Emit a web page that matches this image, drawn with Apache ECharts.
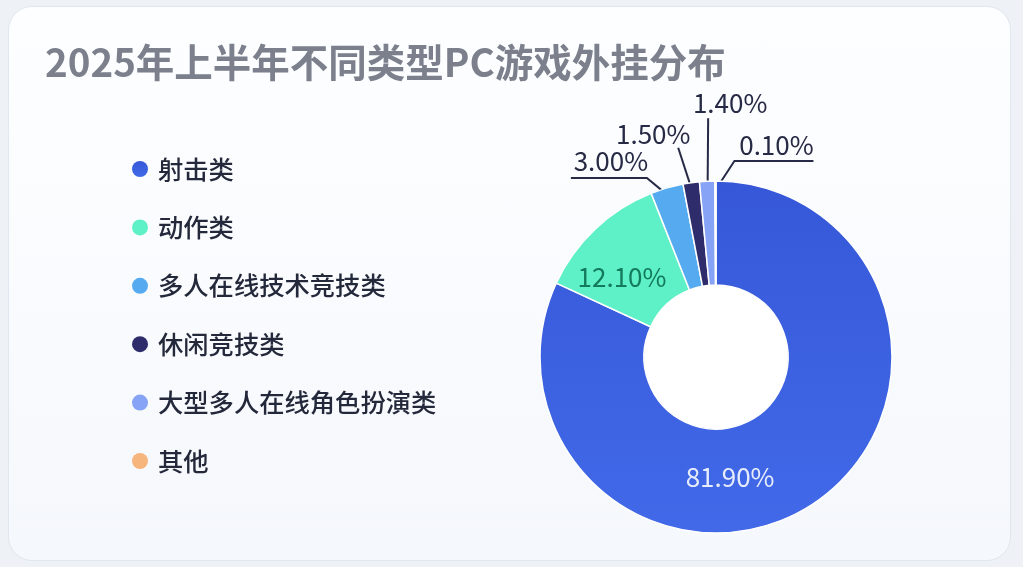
<!DOCTYPE html>
<html><head><meta charset="utf-8">
<script src="https://cdn.jsdelivr.net/npm/echarts@6/dist/echarts.min.js"></script>
<style>
html,body{margin:0;padding:0;width:1023px;height:567px;background:#eef2f6;overflow:hidden}
#card{position:absolute;left:8px;top:6px;width:1003px;height:555px;box-sizing:border-box;border:1.5px solid #e1e7ee;border-radius:24px;background:linear-gradient(180deg,#fdfeff 0%,#f5f8fc 100%);}
#chart{position:absolute;left:0;top:0;width:1023px;height:567px}
</style></head><body>
<div id="card"></div><div id="chart"></div>
<script>
const titleText = '2025年上半年不同类型PC游戏外挂分布';
const categories = ['射击类', '动作类', '多人在线技术竞技类', '休闲竞技类', '大型多人在线角色扮演类', '其他'];
const shares = [81.9, 12.1, 3.0, 1.5, 1.4, 0.1];
const valueLabels = ['81.90%', '12.10%', '3.00%', '1.50%', '1.40%', '0.10%'];

const colors = ['#3d60e0', '#5ef0c6', '#56aaf0', '#2f2c6c', '#86a3f5', '#f7b57e'];
const labelColors = ['#e6ecfb', '#137a5c', '#272a45', '#272a45', '#272a45', '#272a45'];
const C = [716, 357], R = [72, 176];
const insidePos = { 0: [173.3, 121], 1: [310.2, 123] };
const guides = {
  2: { elbow: [-20, -10], end: [-96, -10], text: [-56, -26.5] },
  3: { elbow: [-13, -35], end: null, text: [-38, -49] },
  4: { elbow: [1, -63], end: null, text: [23, -78] },
  5: { elbow: [19, -20], end: [98, -20], text: [61, -35.5] }
};

const chart = echarts.init(document.getElementById('chart'));
const data = categories.map((name, i) => ({
  name: name,
  value: shares[i],
  itemStyle: {
    color: i === 0 ? new echarts.graphic.LinearGradient(0, 0, 0, 1, [
      { offset: 0, color: '#3658d8' }, { offset: 1, color: '#4169e8' }]) : colors[i]
  },
  label: { position: insidePos[i] ? 'inside' : 'outside', color: labelColors[i] },
  labelLine: { show: !insidePos[i] }
}));

chart.setOption({
  animation: false,
  title: {
    text: titleText, left: 40, top: 34,
    textStyle: { fontSize: 38.5, fontWeight: 'bold', color: '#7b808c', fontFamily: 'Noto Sans CJK SC', lineHeight: 46 }
  },
  graphic: [{
    type: 'circle', shape: { cx: C[0], cy: C[1], r: R[0] - 0.5 }, style: { fill: '#ffffff' }, silent: true, z: 0
  }],
  legend: {
    orient: 'vertical', left: 127, top: 150, icon: 'circle', itemWidth: 16, itemHeight: 16, itemGap: 30.4,
    data: categories,
    itemStyle: { borderWidth: 0 },
    textStyle: { fontSize: 25.3, lineHeight: 28, color: '#23283a', fontFamily: 'Noto Sans CJK SC', fontWeight: 500, padding: [0, 0, 0, 5] }
  },
  series: [{
    type: 'pie',
    center: C, radius: R,
    startAngle: 90, clockwise: true,
    avoidLabelOverlap: false,
    itemStyle: { borderColor: '#ffffff', borderWidth: 1.5 },
    label: {
      fontSize: 26, fontFamily: 'Noto Sans CJK SC',
      formatter: p => valueLabels[p.dataIndex]
    },
    labelLine: { lineStyle: { color: '#262a45', width: 2 } },
    labelLayout: function (p) {
      const i = p.dataIndex;
      if (insidePos[i]) {
        const a = insidePos[i][0] * Math.PI / 180, r = insidePos[i][1];
        return { x: C[0] + r * Math.sin(a), y: C[1] - r * Math.cos(a), align: 'center', verticalAlign: 'middle' };
      }
      const g = guides[i];
      if (!g || !p.labelLinePoints) return {};
      const p1 = p.labelLinePoints[0];
      const ux = p1[0] - C[0], uy = p1[1] - C[1];
      const len = Math.hypot(ux, uy);
      const start = [C[0] + ux / len * (R[1] - 9), C[1] + uy / len * (R[1] - 9)];
      const elbow = [p1[0] + g.elbow[0], p1[1] + g.elbow[1]];
      const end = g.end ? [p1[0] + g.end[0], p1[1] + g.end[1]] : elbow.slice();
      return {
        x: p1[0] + g.text[0], y: p1[1] + g.text[1], align: 'center', verticalAlign: 'middle',
        labelLinePoints: [start, elbow, end]
      };
    },
    data: data
  }]
});
</script>
</body></html>
